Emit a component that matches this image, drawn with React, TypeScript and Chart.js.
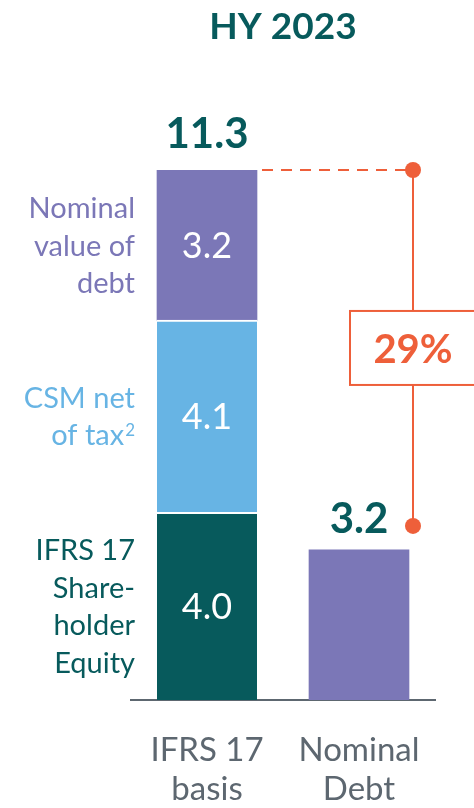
import React, { useEffect, useRef } from "react";
import { Chart, registerables } from "chart.js";

Chart.register(...registerables);

// ---------- data ----------
const chartTitle = "HY 2023";
const categories = [["IFRS 17", "basis"], ["Nominal", "Debt"]];
const equityValues = [4.0, null];
const csmValues = [4.1, null];
const debtValues = [3.2, 3.2];
const totals = [11.3, 3.2];
const equityLabel = ["IFRS 17", "Share-", "holder", "Equity"];
const csmLabel = ["CSM net", "of tax"];
const csmFootnote = "2";
const debtLabel = ["Nominal", "value of", "debt"];
const ratioLabel = "29%";

// ---------- styles ----------
const TEAL = "#075a5c";
const BLUE = "#67b4e4";
const PURPLE = "#7b77b7";
const ORANGE = "#ee5f3a";
const GREY = "#5d6770";
const FONT = "Lato, 'Open Sans', sans-serif";

const annotations = {
  id: "annotations",
  afterDraw(chart: any) {
    const ctx = chart.ctx as CanvasRenderingContext2D;
    const xs = chart.scales.x;
    const ys = chart.scales.y;
    const area = chart.chartArea;
    ctx.save();

    // title
    ctx.fillStyle = TEAL;
    ctx.font = `bold 37px ${FONT}`;
    ctx.textAlign = "center";
    ctx.textBaseline = "alphabetic";
    ctx.fillText(chartTitle, (area.left + area.right) / 2, 39);

    // totals above bars
    const totalOffsets = [22, 17];
    ctx.font = `bold 42px ${FONT}`;
    totals.forEach((t, i) => {
      const px = xs.getPixelForValue(i);
      const py = ys.getPixelForValue(t) - totalOffsets[i];
      ctx.fillText(t.toFixed(1), px, py);
    });

    // segment values + side labels
    const sideLabels = [equityLabel, csmLabel, debtLabel];
    const sideColors = [TEAL, BLUE, PURPLE];
    for (let d = 0; d < 3; d++) {
      const meta = chart.getDatasetMeta(d);
      const el: any = meta.data[0];
      const v = chart.data.datasets[d].data[0];
      if (v == null) continue;
      const cy = (el.y + el.base) / 2;
      ctx.fillStyle = "#ffffff";
      ctx.font = `36px ${FONT}`;
      ctx.textAlign = "center";
      ctx.fillText(Number(v).toFixed(1), el.x, cy + 13);

      const lines = sideLabels[d];
      const lh = 37.5;
      const rx = el.x - el.width / 2 - 22;
      ctx.fillStyle = sideColors[d];
      ctx.textAlign = "right";
      const start = cy - ((lines.length - 1) * lh) / 2 + 10.5;
      lines.forEach((ln, k) => {
        const by = start + k * lh;
        let tx = rx;
        if (d === 1 && k === lines.length - 1) {
          ctx.font = `17px ${FONT}`;
          const w = ctx.measureText(csmFootnote).width;
          ctx.fillText(csmFootnote, rx, by - 9);
          tx = rx - w - 1;
        }
        ctx.font = `29px ${FONT}`;
        ctx.fillText(ln, tx, by);
      });
    }

    // category labels
    ctx.fillStyle = GREY;
    ctx.font = `33px ${FONT}`;
    ctx.textAlign = "center";
    categories.forEach((lines, i) => {
      const px = xs.getPixelForValue(i);
      lines.forEach((ln, k) => ctx.fillText(ln, px, area.bottom + 61 + k * 39));
    });

    // bracket
    const bar0: any = chart.getDatasetMeta(2).data[0];
    const bar1: any = chart.getDatasetMeta(2).data[1];
    const bx = bar1.x + bar1.width / 2 + 4;
    const topY = ys.getPixelForValue(totals[0]);
    const botY = ys.getPixelForValue(totals[1]) - 24;
    ctx.strokeStyle = ORANGE;
    ctx.fillStyle = ORANGE;
    ctx.lineWidth = 2;
    ctx.setLineDash([11, 8]);
    ctx.beginPath();
    ctx.moveTo(bar0.x + bar0.width / 2 + 5, topY);
    ctx.lineTo(bx, topY);
    ctx.stroke();
    ctx.setLineDash([]);
    ctx.beginPath();
    ctx.moveTo(bx, topY);
    ctx.lineTo(bx, botY);
    ctx.stroke();
    [topY, botY].forEach((yy) => {
      ctx.beginPath();
      ctx.arc(bx, yy, 8, 0, Math.PI * 2);
      ctx.fill();
    });
    const my = (topY + botY) / 2;
    const bw = 126;
    const bh = 74;
    ctx.fillStyle = "#ffffff";
    ctx.fillRect(bx - bw / 2, my - bh / 2, bw, bh);
    ctx.strokeRect(bx - bw / 2, my - bh / 2, bw, bh);
    ctx.fillStyle = ORANGE;
    ctx.font = `bold 40px ${FONT}`;
    ctx.textAlign = "center";
    ctx.fillText(ratioLabel, bx, my + 15);

    ctx.restore();
  },
};

export default function App() {
  const ref = useRef<HTMLCanvasElement | null>(null);
  useEffect(() => {
    if (!ref.current) return;
    const chart = new Chart(ref.current, {
      type: "bar",
      data: {
        labels: categories.map((c) => c.join(" ")),
        datasets: [
          {
            label: "IFRS 17 Shareholder Equity",
            data: equityValues as any,
            backgroundColor: TEAL,
            borderColor: "#ffffff",
            borderWidth: { top: 2, left: 0, right: 0, bottom: 0 } as any,
            borderSkipped: false,
          },
          {
            label: "CSM net of tax",
            data: csmValues as any,
            backgroundColor: BLUE,
            borderColor: "#ffffff",
            borderWidth: { top: 2, left: 0, right: 0, bottom: 0 } as any,
            borderSkipped: false,
          },
          {
            label: "Nominal value of debt",
            data: debtValues,
            backgroundColor: PURPLE,
            borderWidth: 0,
          },
        ],
      },
      options: {
        animation: false,
        responsive: false,
        events: [],
        layout: { padding: { left: 131, right: 39, top: 170, bottom: 108 } },
        datasets: { bar: { barThickness: 100 } } as any,
        plugins: { legend: { display: false }, title: { display: false }, tooltip: { enabled: false } },
        scales: {
          x: {
            stacked: true,
            grid: { display: false, drawTicks: false },
            border: { display: true, color: GREY, width: 2 },
            ticks: { display: false },
          },
          y: {
            stacked: true,
            display: false,
            min: 0,
            max: totals[0],
          },
        },
      },
      plugins: [annotations],
    });
    return () => chart.destroy();
  }, []);
  return (
    <div style={{ position: "absolute", left: 0, top: 0, width: 474, height: 808, background: "#fff" }}>
      <canvas ref={ref} width={474} height={808} style={{ display: "block" }} />
    </div>
  );
}
